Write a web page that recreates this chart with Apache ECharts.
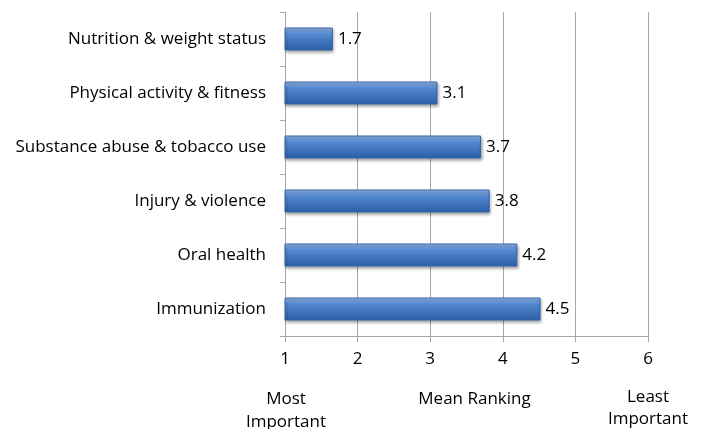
<!DOCTYPE html>
<html><head><meta charset="utf-8">
<script src="https://cdn.jsdelivr.net/npm/echarts@6/dist/echarts.min.js"></script>
<style>html,body{margin:0;padding:0;background:#fff}#c{width:705px;height:429px}</style>
</head><body><div id="c"></div>
<script>
var categories = ["Nutrition & weight status","Physical activity & fitness","Substance abuse & tobacco use","Injury & violence","Oral health","Immunization"];
var values = [1.66, 3.1, 3.7, 3.82, 4.2, 4.52];
var tickLabels = ["1","2","3","4","5","6"];
var FONT = "Open Sans";
var FS = 17;
var chart = echarts.init(document.getElementById('c'));
chart.setOption({
  animation:false,
  grid:{left:285,right:57,top:12,bottom:93,containLabel:false},
  xAxis:{type:'value',min:1,max:6,interval:1,
    axisLine:{show:true,lineStyle:{color:'#a6a6a6'}},
    axisTick:{show:true,length:6,lineStyle:{color:'#a6a6a6'}},
    splitLine:{show:true,lineStyle:{color:'#a6a6a6'}},
    axisLabel:{margin:15,color:'#000',fontFamily:FONT,fontSize:FS,formatter:function(v){return tickLabels[Math.round(v)-1];}},
    name:'Mean Ranking',nameLocation:'middle',nameGap:55,
    nameTextStyle:{color:'#000',fontFamily:FONT,fontSize:FS,padding:[0,0,0,16]}
  },
  yAxis:{type:'category',data:categories,inverse:true,
    axisLine:{show:true,lineStyle:{color:'#a6a6a6'}},
    axisTick:{show:true,inside:false,length:5,alignWithLabel:false,lineStyle:{color:'#a6a6a6'}},
    axisLabel:{margin:19,color:'#000',fontFamily:FONT,fontSize:FS}
  },
  series:[{type:'bar',data:values,barWidth:23,
    itemStyle:{
      color:new echarts.graphic.LinearGradient(0,0,0,1,[{offset:0,color:'#93b6e6'},{offset:0.3,color:'#5288d0'},{offset:1,color:'#2b5ea6'}]),
      borderColor:'#3767a8',borderWidth:1,
      shadowColor:'rgba(0,0,0,0.35)',shadowBlur:3,shadowOffsetX:1,shadowOffsetY:2
    },
    label:{show:true,position:'right',distance:5,color:'#000',fontFamily:FONT,fontSize:FS,formatter:function(p){return p.value.toFixed(1);}}
  }],
  graphic:[
    {type:'text',x:286,y:399,style:{text:'Most',fontFamily:FONT,fontSize:FS,fill:'#000',textAlign:'center',textVerticalAlign:'middle'}},
    {type:'text',x:286,y:422,style:{text:'Important',fontFamily:FONT,fontSize:FS,fill:'#000',textAlign:'center',textVerticalAlign:'middle'}},
    {type:'text',x:648,y:397,style:{text:'Least',fontFamily:FONT,fontSize:FS,fill:'#000',textAlign:'center',textVerticalAlign:'middle'}},
    {type:'text',x:648,y:419,style:{text:'Important',fontFamily:FONT,fontSize:FS,fill:'#000',textAlign:'center',textVerticalAlign:'middle'}}
  ]
});
</script></body></html>
